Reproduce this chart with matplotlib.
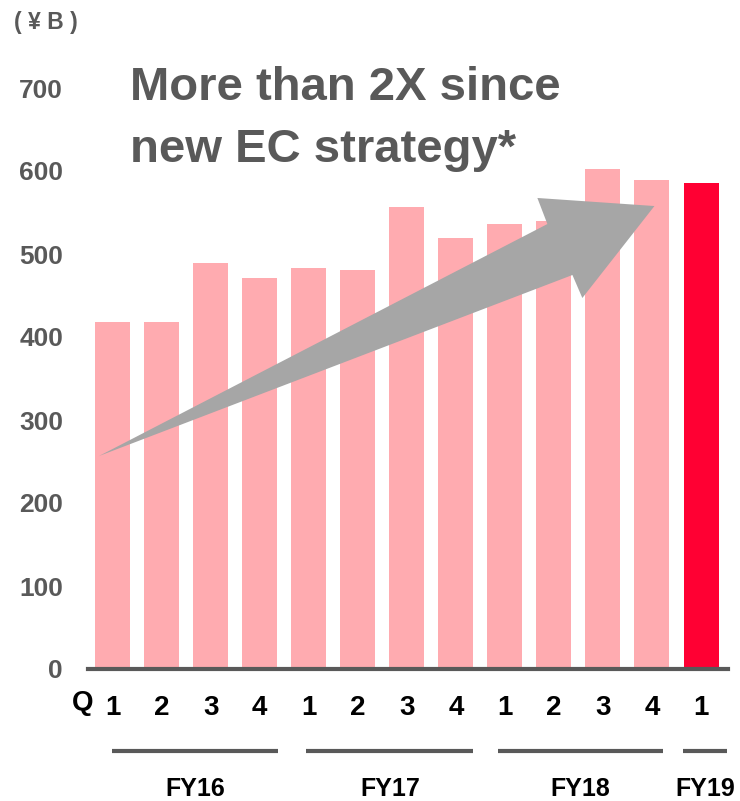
import numpy as np
import matplotlib
matplotlib.use('Agg')
import matplotlib.pyplot as plt
from matplotlib.patches import Polygon
import matplotlib.transforms as mtransforms

plt.rcParams['font.family'] = ['Liberation Sans', 'DejaVu Sans']
plt.rcParams['font.weight'] = 'bold'

# quarterly EC sales, JPY billion
quarters = ['1', '2', '3', '4', '1', '2', '3', '4', '1', '2', '3', '4', '1']
sales = [418, 418, 489, 471, 483, 481, 557, 519, 536, 540, 602, 589, 585]
years = ['FY16', 'FY17', 'FY18', 'FY19']
year_spans = [(-0.01, 3.38), (3.95, 7.36), (7.85, 11.23), (11.64, 12.52)]
yticks = [0, 100, 200, 300, 400, 500, 600, 700]

gray = '#595959'
pink = '#ffabb0'
red = '#ff0033'

fig = plt.figure(figsize=(7.4, 8.01), dpi=100)
ax = fig.add_axes([88 / 740, 132 / 801, 640 / 740, 581 / 801])

x = np.arange(len(sales))
colors = [pink] * (len(sales) - 1) + [red]
ax.bar(x, sales, width=0.714, color=colors, zorder=2)

ax.set_xlim(-0.5, 12.55)
ax.set_ylim(0, 700)
ax.set_yticks(yticks)
ax.set_yticklabels([str(v) for v in yticks], fontsize=19, color=gray, fontweight='bold')
ax.set_xticks(x)
ax.set_xticklabels(quarters, fontsize=20, color='black', fontweight='bold')
ax.tick_params(axis='y', length=0, pad=18)
ax.tick_params(axis='x', length=0, pad=19)

for s in ['top', 'right', 'left']:
    ax.spines[s].set_visible(False)
ax.spines['bottom'].set_color(gray)
ax.spines['bottom'].set_linewidth(3)
ax.spines['bottom'].set_zorder(3)

# fiscal year brackets under the quarter labels
trans = mtransforms.blended_transform_factory(ax.transData, ax.transAxes)
for name, (a, b) in zip(years, year_spans):
    ax.plot([a, b], [-0.141, -0.141], color=gray, lw=3, transform=trans,
            clip_on=False, solid_capstyle='butt')
    ax.text((a + b) / 2, -0.2065, name, transform=trans, ha='center',
            va='center', fontsize=18, fontweight='bold', color='black')

ax.text(-0.6, -0.058, 'Q', transform=trans, ha='center', va='center',
        fontsize=20, fontweight='bold', color='black')

# growth arrow
arrow_pts = [(-0.276, 256.6), (8.867, 536.1), (8.663, 567.5), (11.05, 557.8),
             (9.58, 447.0), (9.378, 474.7)]
ax.add_patch(Polygon(arrow_pts, closed=True, facecolor='#a6a6a6',
                     edgecolor='none', zorder=4))

fig.text(130 / 740, 1 - 100 / 801, 'More than 2X since', ha='left',
         va='baseline', fontsize=34, fontweight='bold', color=gray)
fig.text(130 / 740, 1 - 162 / 801, 'new EC strategy*', ha='left',
         va='baseline', fontsize=34, fontweight='bold', color=gray)
fig.text(14 / 740, 1 - 23 / 801, '( \u00a5 B )', ha='left', va='center',
         fontsize=16.5, fontweight='bold', color=gray)

fig.savefig('out.png', dpi=100)
